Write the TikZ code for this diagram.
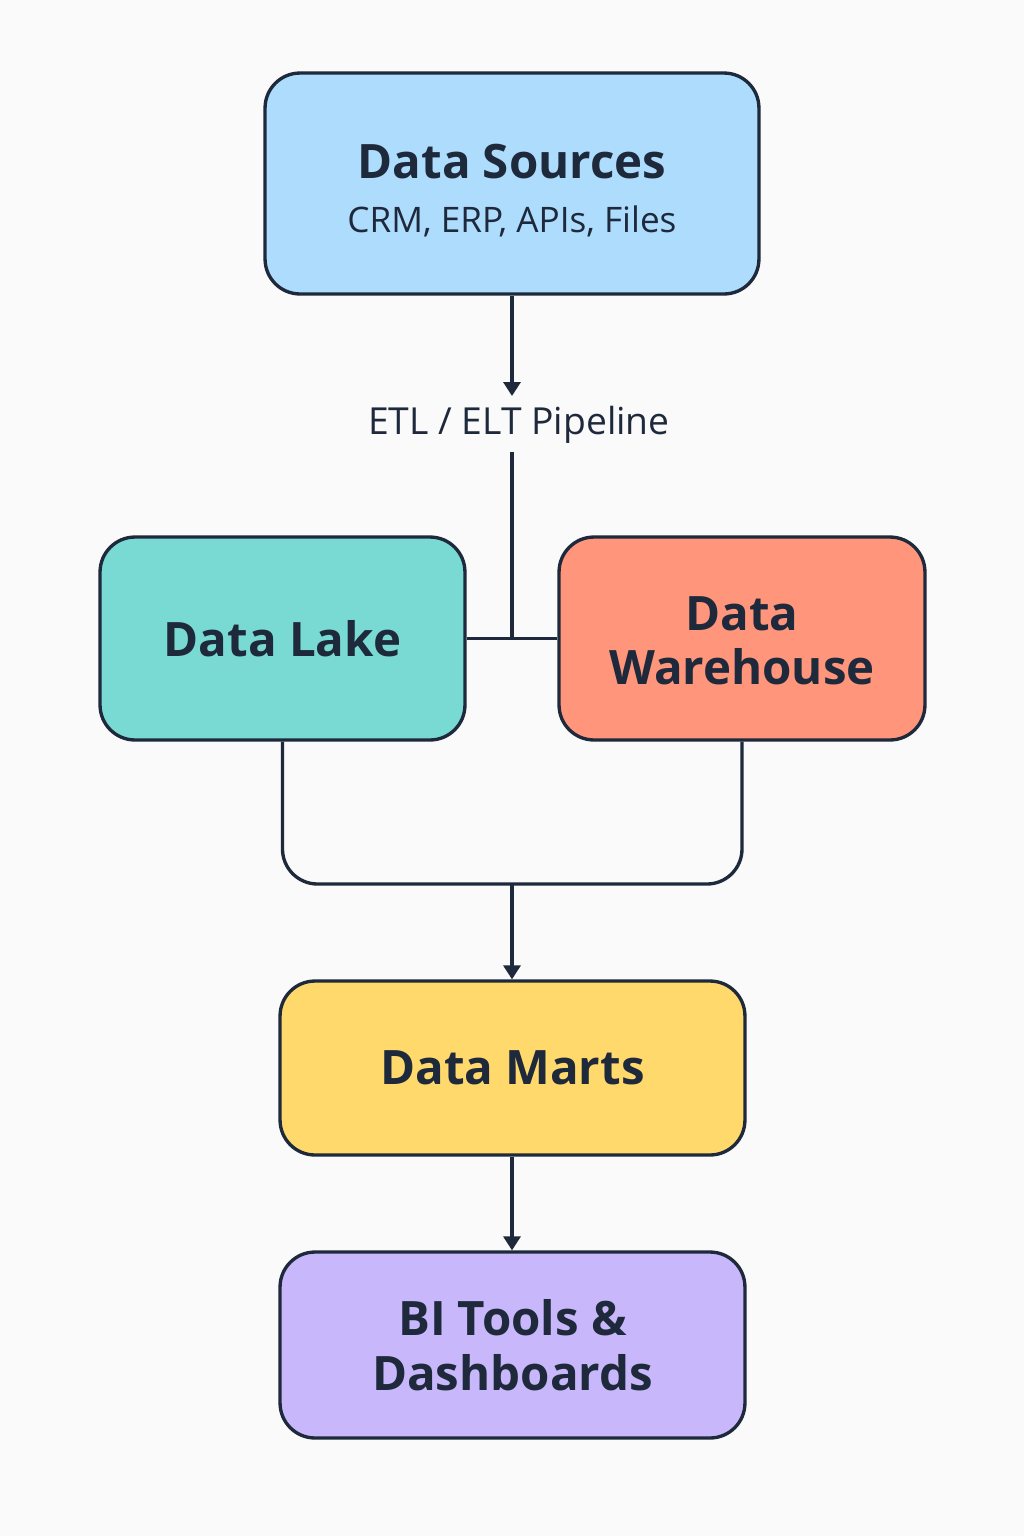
\documentclass[tikz,border=0pt]{standalone}
\usepackage{fontspec}
\setmainfont{Open Sans}
\usetikzlibrary{arrows.meta}
\definecolor{ink}{HTML}{1E293B}
\definecolor{bg}{HTML}{FAFAFA}
\definecolor{cblue}{HTML}{ADDCFD}
\definecolor{cteal}{HTML}{79D9D3}
\definecolor{csalmon}{HTML}{FF957B}
\definecolor{cyellow}{HTML}{FFD96B}
\definecolor{cpurple}{HTML}{C8B8FB}
\tikzset{
  box/.style={draw=ink, line width=1.9pt, rounded corners=0.7cm, align=center,
    text=ink, font=\fontsize{27}{36}\selectfont\bfseries, inner sep=0pt},
  conn/.style={draw=ink, line width=1.9pt},
  arr/.style={conn, -{Triangle[width=0.34cm,length=0.28cm]}},
}
\begin{document}
\begin{tikzpicture}[x=0.02cm, y=-0.02cm]
\fill[bg] (0,0) rectangle (1024,1536);
\useasboundingbox (0,0) rectangle (1024,1536);
\node[box, fill=cblue, minimum width=9.88cm, minimum height=4.42cm] (ds) at (512,183.5)
  {\rule{0pt}{27.5pt}Data Sources\\[-5pt]{\fontsize{20}{24}\selectfont\mdseries CRM, ERP, APIs, Files}};
\node[text=ink, font=\fontsize{21.2}{24}\selectfont] (etl) at (519,425) {ETL / ELT Pipeline};
\node[box, fill=cteal, minimum width=7.3cm, minimum height=4.06cm] (lake) at (282.5,638.5) {Data Lake};
\node[box, fill=csalmon, minimum width=7.32cm, minimum height=4.06cm] (wh) at (742,638.5) {\rule{0pt}{22pt}Data\\[-5pt]Warehouse};
\node[box, fill=cyellow, minimum width=9.3cm, minimum height=3.48cm] (marts) at (512.5,1068) {Data Marts};
\node[box, fill=cpurple, minimum width=9.3cm, minimum height=3.72cm] (bi) at (512.5,1345) {BI Tools \&\\[-5pt]Dashboards};
\coordinate (etltop) at (512,396);
\coordinate (etlbot) at (512,452);
\coordinate (j) at (512,640);
\coordinate (m) at (512,884);
\draw[arr] (ds.south -| etltop) -- (etltop);
\draw[conn] (etlbot) -- (j);
\draw[conn] (lake.east) -- (wh.west);
\draw[conn, rounded corners=0.7cm] (lake.south) -- (lake.south |- m) -- (wh.south |- m) -- (wh.south);
\draw[arr] (m) -- (m |- marts.north);
\draw[arr] (marts.south -| m) -- (m |- bi.north);
\end{tikzpicture}
\end{document}
